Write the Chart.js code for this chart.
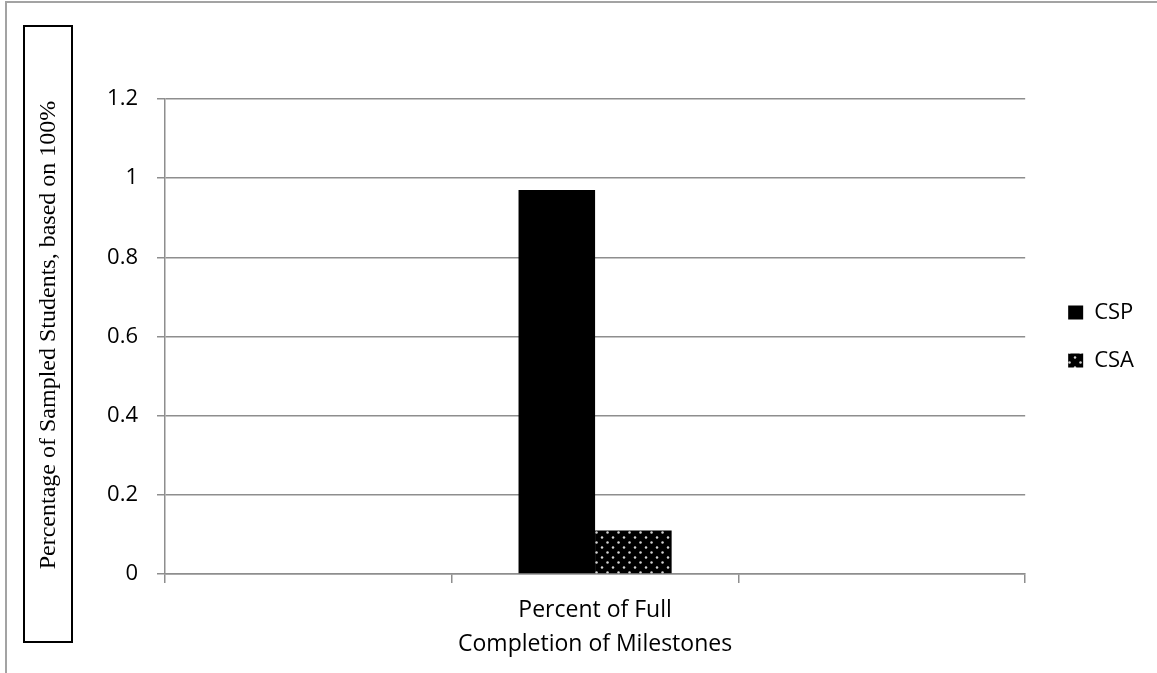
<!DOCTYPE html>
<html>
<head>
<meta charset="utf-8">
<script src="https://cdn.jsdelivr.net/npm/chart.js@4.4.1/dist/chart.umd.min.js"></script>
<style>
  html, body { margin: 0; padding: 0; background: #fff; overflow: hidden; }
  #wrap { width: 1157px; height: 673px; position: relative; }
</style>
</head>
<body>
<div id="wrap"><canvas id="c" width="1157" height="673"></canvas></div>
<script>
// Chart data
const categories = ['', ['Percent of Full', 'Completion of Milestones'], ''];
const seriesNames = ['CSP', 'CSA'];
const cspValues = [null, 0.97, null];
const csaValues = [null, 0.11, null];
const yTickLabels = ['0', '0.2', '0.4', '0.6', '0.8', '1', '1.2'];
const yAxisTitle = 'Percentage of Sampled Students, based on 100%';

const SANS = '"Open Sans", "Noto Sans", sans-serif';
const SERIF = '"Liberation Serif", "DejaVu Serif", serif';
const GRID = '#8e8e8e';

// Black fill with a staggered grid of light dots
function dotPattern(ctx) {
  const t = document.createElement('canvas');
  t.width = 11; t.height = 10;
  const g = t.getContext('2d');
  g.fillStyle = '#000';
  g.fillRect(0, 0, t.width, t.height);
  g.fillStyle = '#d4d4d4';
  [[2.5, 2.5], [8, 7.5]].forEach(([x, y]) => {
    g.beginPath();
    g.arc(x, y, 1.25, 0, Math.PI * 2);
    g.fill();
  });
  return ctx.createPattern(t, 'repeat');
}

// Outer frame and the boxed, rotated value-axis title
const framePlugin = {
  id: 'frame',
  beforeDraw(chart) {
    const c = chart.ctx;
    c.save();
    c.fillStyle = '#fff';
    c.fillRect(0, 0, chart.width, chart.height);
    c.restore();
  },
  afterDraw(chart) {
    const c = chart.ctx;
    c.save();
    c.fillStyle = '#a3a3a3';
    c.fillRect(5, 1, chart.width - 5, 2);
    c.fillRect(5, 1, 2, chart.height - 1);
    c.strokeStyle = '#000';
    c.lineWidth = 2;
    c.strokeRect(24, 26, 48, 616);
    c.translate(55, 335);
    c.rotate(-Math.PI / 2);
    c.font = '24px ' + SERIF;
    c.fillStyle = '#000';
    c.textAlign = 'center';
    c.textBaseline = 'alphabetic';
    c.fillText(yAxisTitle, 0, 0);
    c.restore();
  }
};

function build() {
  const canvas = document.getElementById('c');
  const ctx = canvas.getContext('2d');
  new Chart(ctx, {
    type: 'bar',
    data: {
      labels: categories,
      datasets: [
        { label: seriesNames[0], data: cspValues, backgroundColor: '#000', borderWidth: 0 },
        { label: seriesNames[1], data: csaValues, backgroundColor: dotPattern(ctx), borderWidth: 0 }
      ]
    },
    options: {
      responsive: false,
      animation: false,
      devicePixelRatio: 1,
      layout: { padding: { left: 0, top: 99, right: 13, bottom: 0 } },
      datasets: { bar: { categoryPercentage: 0.534, barPercentage: 1 } },
      plugins: {
        legend: {
          position: 'right',
          align: 'center',
          fullSize: false,
          labels: {
            boxWidth: 15,
            boxHeight: 14,
            padding: 26,
            color: '#000',
            font: { family: SANS, size: 22 }
          }
        },
        tooltip: { enabled: false }
      },
      scales: {
        x: {
          grid: { drawOnChartArea: false, tickLength: 9, color: GRID, lineWidth: 1.5, offset: true },
          border: { color: GRID, width: 1.5 },
          ticks: {
            color: '#000',
            font: { family: SANS, size: 23, lineHeight: 1.5 },
            padding: 10,
            maxRotation: 0,
            autoSkip: false
          },
          afterFit: s => { s.height = 99; }
        },
        y: {
          min: 0,
          max: 1.2,
          grid: { color: GRID, tickLength: 8, lineWidth: 1.5 },
          border: { color: GRID, width: 1.5 },
          ticks: {
            stepSize: 0.2,
            padding: 19,
            color: '#000',
            font: { family: SANS, size: 22 },
            callback: (v, i) => yTickLabels[i]
          },
          afterFit: s => { s.width = 165; }
        },
        gap: {
          position: 'right',
          display: true,
          grid: { display: false },
          border: { display: false },
          ticks: { display: false },
          afterFit: s => { s.width = 17; }
        }
      }
    },
    plugins: [framePlugin]
  });
}

Promise.all([
  document.fonts.load('22px "Open Sans"'),
  document.fonts.load('24px "Liberation Serif"')
]).then(build, build);
</script>
</body>
</html>
